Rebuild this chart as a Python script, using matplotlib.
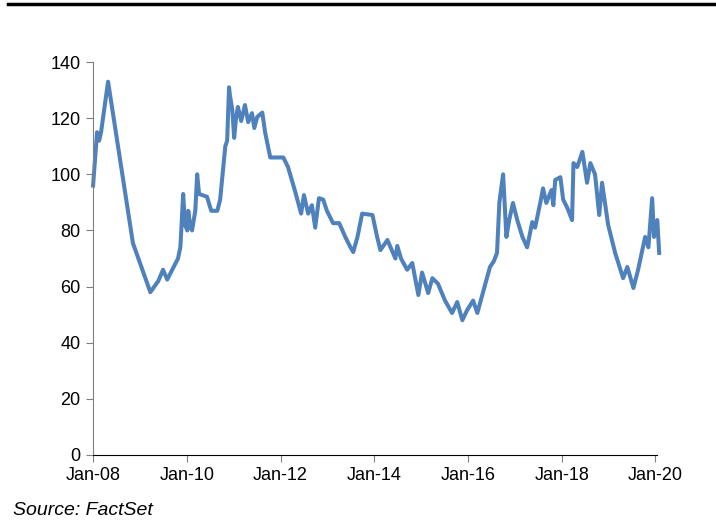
import numpy as np
import pandas as pd
from matplotlib import pyplot as plt
from matplotlib.lines import Line2D
import matplotlib.dates as mdates

plt.rcParams['font.family'] = ['Liberation Sans', 'DejaVu Sans']

# fechas en anos decimales y valores (8 por fila)
anios = [2008.00, 2008.085, 2008.13, 2008.17, 2008.32, 2008.85, 2009.22, 2009.39,
         2009.49, 2009.58, 2009.81, 2009.86, 2009.88, 2009.92, 2009.96, 2010.01,
         2010.03, 2010.07, 2010.11, 2010.16, 2010.18, 2010.22, 2010.26, 2010.43,
         2010.52, 2010.65, 2010.71, 2010.77, 2010.82, 2010.86, 2010.90, 2010.92,
         2010.97, 2011.01, 2011.05, 2011.09, 2011.16, 2011.24, 2011.31, 2011.39,
         2011.44, 2011.50, 2011.61, 2011.67, 2011.78, 2012.06, 2012.16, 2012.31,
         2012.44, 2012.50, 2012.59, 2012.67, 2012.74, 2012.82, 2012.91, 2012.99,
         2013.12, 2013.25, 2013.38, 2013.49, 2013.55, 2013.64, 2013.74, 2013.96,
         2014.06, 2014.13, 2014.28, 2014.45, 2014.49, 2014.57, 2014.70, 2014.81,
         2014.94, 2015.02, 2015.15, 2015.24, 2015.36, 2015.51, 2015.66, 2015.77,
         2015.88, 2015.98, 2016.11, 2016.20, 2016.37, 2016.47, 2016.55, 2016.62,
         2016.67, 2016.75, 2016.82, 2016.88, 2016.96, 2017.05, 2017.16, 2017.26,
         2017.37, 2017.43, 2017.54, 2017.60, 2017.67, 2017.78, 2017.82, 2017.86,
         2017.97, 2018.03, 2018.12, 2018.22, 2018.25, 2018.33, 2018.44, 2018.54,
         2018.61, 2018.71, 2018.80, 2018.86, 2018.99, 2019.14, 2019.31, 2019.40,
         2019.53, 2019.63, 2019.78, 2019.85, 2019.93, 2019.97, 2020.04, 2020.08]
valores = [96, 115, 112, 115, 133, 75.5, 58, 62,
           66, 62.5, 70, 74, 80, 93, 82, 80,
           87, 82, 80, 85, 87, 100, 93, 92,
           87, 87, 91, 101.5, 110, 112, 131, 128,
           123, 113, 120, 124, 119, 124.7, 118.6, 121.8,
           116.5, 120.4, 122, 115, 106, 106, 102.6, 94,
           86, 92.6, 86, 89, 81, 91.5, 91, 87,
           82.6, 82.6, 77.7, 74, 72.3, 77.7, 86, 85.5,
           77.7, 73, 76.6, 70, 74.5, 70, 66, 68.4,
           57, 65, 57.7, 63, 61, 55, 50.6, 54.5,
           48, 51.6, 55, 50.6, 61, 67, 69, 72,
           90, 100, 77.7, 83.7, 89.8, 83.7, 77.7, 74,
           83, 81, 89.8, 95, 89.8, 94.4, 89, 98,
           99, 91, 88, 83.7, 104, 102.6, 108, 97,
           104, 100, 85.5, 97, 82, 72, 63, 67,
           59.5, 66, 77.7, 74, 91.5, 77.7, 83.7, 72]

def a_fecha(a):
    base = pd.Timestamp(int(a), 1, 1)
    return base + pd.Timedelta(days=(a - int(a)) * 365.25)

fechas = [a_fecha(a) for a in anios]

fig = plt.figure(figsize=(7.16, 5.26), dpi=100)
ax = fig.add_axes([0.130, 0.135, 0.788, 0.747])

ax.plot(fechas, valores, color='#4F81BD', linewidth=2.9, solid_joinstyle='round',
        clip_on=False)

ax.set_ylim(0, 140)
ax.set_yticks(range(0, 141, 20))
ax.set_xlim(a_fecha(2008.0), a_fecha(2020.04))
ax.xaxis.set_major_locator(mdates.YearLocator(2, month=1, day=1))
ax.xaxis.set_major_formatter(mdates.DateFormatter('%b-%y'))

ax.spines['top'].set_visible(False)
ax.spines['right'].set_visible(False)
ax.spines['left'].set_color('#808080')
ax.spines['bottom'].set_color('#000000')
ax.tick_params(axis='y', colors='#808080', labelcolor='black', labelsize=13, length=5, pad=4)
ax.tick_params(axis='x', colors='#808080', labelcolor='black', labelsize=13, length=5, pad=4)

# linea superior
fig.add_artist(Line2D([0.011, 1.0], [0.993, 0.993], color='black', linewidth=2.5,
                      transform=fig.transFigure))

fig.text(0.018, 0.030, 'Source: FactSet', fontsize=14, style='italic', ha='left', va='center')

plt.savefig('out.png', dpi=100)
